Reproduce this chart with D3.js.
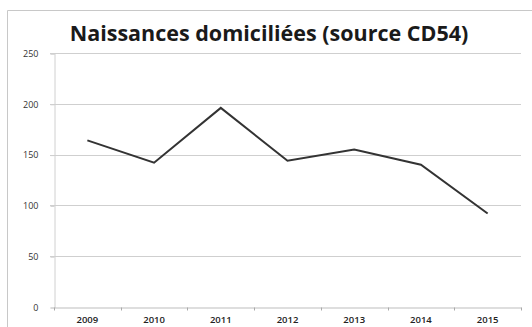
<!DOCTYPE html>
<html>
<head>
<meta charset="utf-8">
<script src="https://cdn.jsdelivr.net/npm/d3@7"></script>
<style>
  body { margin: 0; background: #fff; }
  svg { display: block; }
</style>
</head>
<body>
<svg></svg>
<script>
// donnees
var annees = ['2009', '2010', '2011', '2012', '2013', '2014', '2015'];
var naissances = [164, 142, 196, 144, 155, 140, 92];
var yTicks = [0, 50, 100, 150, 200, 250];
var titre = 'Naissances domiciliées (source CD54)';

var W = 532, H = 327;
var m = {left: 54, right: 11, top: 53, bottom: 20};

var svg = d3.select('svg').attr('width', W).attr('height', H);

// cadre du graphique (bord gauche et haut visibles)
svg.append('path')
  .attr('d', 'M7.5,' + H + 'V10.5H' + W)
  .attr('fill', 'none')
  .attr('stroke', '#c8c8c8')
  .attr('stroke-width', 1);

var x = d3.scaleBand().domain(annees).range([m.left, W - m.right]);
var y = d3.scaleLinear().domain([0, 250]).range([H - m.bottom, m.top]);

// grille horizontale
svg.append('g').selectAll('line')
  .data(yTicks.slice(1))
  .enter().append('line')
  .attr('x1', m.left - 4).attr('x2', W - m.right)
  .attr('y1', function(d) { return Math.round(y(d)) + 0.5; })
  .attr('y2', function(d) { return Math.round(y(d)) + 0.5; })
  .attr('stroke', '#cfcfcf');

// axe vertical
var yAxis = d3.axisLeft(y).tickValues(yTicks).tickSize(4).tickPadding(12);
var gy = svg.append('g').attr('transform', 'translate(' + (m.left + 0.5) + ',0.5)').call(yAxis);
gy.select('.domain').attr('stroke', '#d0d0d0');
gy.selectAll('.tick line').attr('stroke', '#cfcfcf');
gy.selectAll('text')
  .attr('fill', '#333')
  .style('font-family', 'Open Sans, sans-serif')
  .style('font-size', '9px');

// axe horizontal
var xAxis = d3.axisBottom(x).tickSize(0).tickPadding(9);
var gx = svg.append('g').attr('transform', 'translate(0,' + (Math.round(y(0)) + 0.5) + ')').call(xAxis);
gx.select('.domain').attr('stroke', '#bdbdbd');
gx.selectAll('text')
  .attr('fill', '#222')
  .style('font-family', 'Open Sans, sans-serif')
  .style('font-size', '9.5px')
  .style('font-weight', '600');

// petites graduations entre les categories
var bords = annees.map(function(a) { return x(a); }).concat([W - m.right]);
gx.selectAll('.sep')
  .data(bords)
  .enter().append('line')
  .attr('class', 'sep')
  .attr('x1', function(d) { return Math.round(d) + 0.5; })
  .attr('x2', function(d) { return Math.round(d) + 0.5; })
  .attr('y1', 0).attr('y2', 3)
  .attr('stroke', '#aaa');

// courbe
var ligne = d3.line()
  .x(function(d, i) { return x(annees[i]) + x.bandwidth() / 2; })
  .y(function(d) { return y(d); });

svg.append('path')
  .datum(naissances)
  .attr('d', ligne)
  .attr('fill', 'none')
  .attr('stroke', '#333')
  .attr('stroke-width', 2)
  .attr('stroke-linejoin', 'miter');

// titre
svg.append('text')
  .attr('x', 269)
  .attr('y', 41)
  .attr('text-anchor', 'middle')
  .attr('fill', '#1a1a1a')
  .style('font-family', 'Open Sans, sans-serif')
  .style('font-size', '21.5px')
  .style('font-weight', 'bold')
  .text(titre);
</script>
</body>
</html>
